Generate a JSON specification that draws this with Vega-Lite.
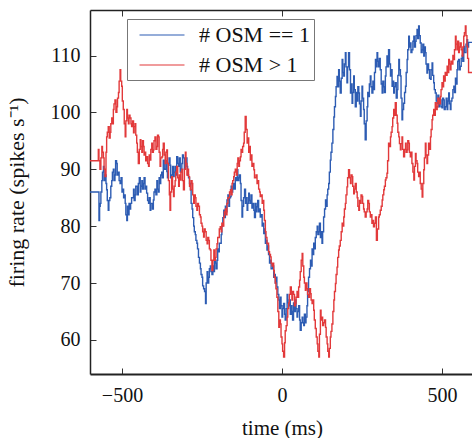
{
  "$schema": "https://vega.github.io/schema/vega-lite/v6.json",
  "width": 384,
  "height": 364,
  "autosize": {"type": "none"},
  "padding": {"left": 90, "top": 10, "right": 0, "bottom": 64},
  "background": "white",
  "config": {
    "view": {"stroke": null},
    "font": "Liberation Serif",
    "axis": {"labelFont": "Liberation Serif", "titleFont": "Liberation Serif", "labelColor": "#111", "titleColor": "#111", "grid": false, "tickColor": "#333", "domainColor": "#222", "titleFontWeight": "normal"}
  },
  "datasets": {
    "blue": [
{"t":-600,"r":86},{"t":-572,"r":81},{"t":-570,"r":83.5},{"t":-568,"r":84},{"t":-566,"r":86},{"t":-563,"r":88},{"t":-561,"r":89.5},{"t":-558,"r":90.5},{"t":-556,"r":88},{"t":-553,"r":89},{"t":-550,"r":87.5},{"t":-548,"r":86.4},{"t":-546,"r":84.5},{"t":-543,"r":82.8},{"t":-541,"r":84.5},{"t":-538,"r":85},{"t":-535,"r":87},{"t":-532,"r":88},{"t":-530,"r":89.5},{"t":-527,"r":90},{"t":-525,"r":88},{"t":-522,"r":89},{"t":-520,"r":91.5},{"t":-517,"r":91},{"t":-515,"r":89},{"t":-512,"r":89.5},{"t":-509,"r":88},{"t":-506,"r":87.5},{"t":-503,"r":88.5},{"t":-500,"r":86},{"t":-498,"r":86.5},{"t":-495,"r":85},{"t":-493,"r":85.5},{"t":-490,"r":84},{"t":-488,"r":82},{"t":-485,"r":81},{"t":-483,"r":83.5},{"t":-480,"r":82},{"t":-478,"r":84},{"t":-475,"r":83},{"t":-473,"r":84},{"t":-470,"r":85},{"t":-467,"r":85},{"t":-464,"r":86.5},{"t":-462,"r":84.5},{"t":-459,"r":85.5},{"t":-457,"r":87},{"t":-454,"r":87},{"t":-452,"r":85.5},{"t":-449,"r":87.5},{"t":-446,"r":88.5},{"t":-443,"r":86},{"t":-441,"r":87},{"t":-438,"r":88},{"t":-436,"r":86.5},{"t":-433,"r":87.5},{"t":-431,"r":88.5},{"t":-428,"r":86.5},{"t":-426,"r":87},{"t":-423,"r":85.8},{"t":-420,"r":84.5},{"t":-417,"r":84},{"t":-415,"r":85},{"t":-412,"r":82.8},{"t":-410,"r":84},{"t":-407,"r":84},{"t":-405,"r":83},{"t":-402,"r":84.6},{"t":-400,"r":86},{"t":-397,"r":86.5},{"t":-394,"r":85.5},{"t":-391,"r":88},{"t":-389,"r":86.5},{"t":-386,"r":86},{"t":-384,"r":88.5},{"t":-381,"r":87.5},{"t":-379,"r":89},{"t":-376,"r":89.5},{"t":-374,"r":88.5},{"t":-371,"r":91.6},{"t":-368,"r":90},{"t":-365,"r":90},{"t":-363,"r":91.5},{"t":-360,"r":89.6},{"t":-358,"r":88.5},{"t":-355,"r":91},{"t":-353,"r":92},{"t":-350,"r":90.7},{"t":-348,"r":88.5},{"t":-345,"r":89},{"t":-342,"r":90.5},{"t":-339,"r":88.7},{"t":-337,"r":89.5},{"t":-334,"r":90.5},{"t":-332,"r":89},{"t":-329,"r":92.2},{"t":-326,"r":91},{"t":-323,"r":90.5},{"t":-321,"r":92},{"t":-318,"r":89.5},{"t":-316,"r":90},{"t":-313,"r":91},{"t":-311,"r":92.5},{"t":-308,"r":92},{"t":-305,"r":90},{"t":-302,"r":91},{"t":-300,"r":92},{"t":-297,"r":90.5},{"t":-295,"r":89},{"t":-292,"r":88.5},{"t":-289,"r":87.5},{"t":-286,"r":86.4},{"t":-284,"r":84},{"t":-281,"r":83},{"t":-279,"r":81.5},{"t":-276,"r":80},{"t":-274,"r":79},{"t":-271,"r":78.5},{"t":-269,"r":77.5},{"t":-266,"r":77},{"t":-264,"r":76},{"t":-261,"r":74.5},{"t":-258,"r":73.5},{"t":-255,"r":72.5},{"t":-253,"r":71.5},{"t":-250,"r":71},{"t":-248,"r":69.5},{"t":-245,"r":69},{"t":-242,"r":68.5},{"t":-239,"r":66.4},{"t":-237,"r":70},{"t":-234,"r":72},{"t":-232,"r":70},{"t":-229,"r":71},{"t":-227,"r":72.5},{"t":-224,"r":73},{"t":-222,"r":72},{"t":-219,"r":71.5},{"t":-216,"r":73},{"t":-213,"r":72},{"t":-211,"r":74},{"t":-208,"r":73.5},{"t":-206,"r":72.5},{"t":-203,"r":74},{"t":-201,"r":76},{"t":-198,"r":75.5},{"t":-196,"r":77},{"t":-193,"r":77},{"t":-190,"r":78.5},{"t":-188,"r":80},{"t":-185,"r":81.5},{"t":-182,"r":82.8},{"t":-180,"r":81.5},{"t":-177,"r":83.5},{"t":-175,"r":82.5},{"t":-172,"r":84.6},{"t":-169,"r":85.5},{"t":-166,"r":83.5},{"t":-164,"r":85},{"t":-161,"r":85.2},{"t":-159,"r":87},{"t":-156,"r":86},{"t":-154,"r":86.5},{"t":-151,"r":87.5},{"t":-149,"r":86.5},{"t":-146,"r":88.5},{"t":-143,"r":88},{"t":-140,"r":89.9},{"t":-138,"r":88},{"t":-135,"r":88.5},{"t":-133,"r":89},{"t":-130,"r":87.5},{"t":-128,"r":84.5},{"t":-125,"r":81.6},{"t":-123,"r":83.5},{"t":-120,"r":85},{"t":-117,"r":86.5},{"t":-114,"r":84},{"t":-112,"r":85},{"t":-109,"r":82.8},{"t":-107,"r":84},{"t":-104,"r":85.8},{"t":-102,"r":84.5},{"t":-99,"r":84},{"t":-97,"r":85.5},{"t":-94,"r":83.2},{"t":-91,"r":84},{"t":-88,"r":82.8},{"t":-86,"r":81.5},{"t":-83,"r":84},{"t":-81,"r":82.5},{"t":-78,"r":83.4},{"t":-76,"r":84.5},{"t":-73,"r":82.5},{"t":-70,"r":83},{"t":-68,"r":81.6},{"t":-65,"r":82},{"t":-62,"r":80},{"t":-60,"r":80.5},{"t":-57,"r":78.7},{"t":-55,"r":79.5},{"t":-52,"r":77},{"t":-50,"r":77.5},{"t":-47,"r":75.8},{"t":-45,"r":76.5},{"t":-42,"r":75},{"t":-39,"r":73.5},{"t":-36,"r":74},{"t":-34,"r":72.5},{"t":-31,"r":72.5},{"t":-29,"r":73},{"t":-26,"r":71},{"t":-24,"r":71.5},{"t":-21,"r":70},{"t":-19,"r":71},{"t":-16,"r":69.3},{"t":-13,"r":68},{"t":-10,"r":67},{"t":-8,"r":65.5},{"t":-5,"r":67.5},{"t":-3,"r":66},{"t":0,"r":64},{"t":2,"r":65.5},{"t":5,"r":66.4},{"t":8,"r":64.5},{"t":10,"r":63.5},{"t":13,"r":65.5},{"t":16,"r":68},{"t":18,"r":66.5},{"t":21,"r":66},{"t":23,"r":67},{"t":26,"r":64.5},{"t":29,"r":66},{"t":31,"r":65},{"t":33,"r":63.5},{"t":36,"r":66.5},{"t":39,"r":65},{"t":42,"r":67},{"t":44,"r":65.5},{"t":47,"r":64},{"t":49,"r":65},{"t":52,"r":66},{"t":55,"r":63.5},{"t":57,"r":61.7},{"t":60,"r":63},{"t":63,"r":64},{"t":65,"r":63},{"t":68,"r":62.5},{"t":70,"r":64.5},{"t":73,"r":63},{"t":75,"r":64},{"t":78,"r":66},{"t":80,"r":68.5},{"t":83,"r":71},{"t":86,"r":72.5},{"t":89,"r":74},{"t":91,"r":73},{"t":94,"r":76},{"t":96,"r":75},{"t":99,"r":77},{"t":101,"r":76},{"t":104,"r":78},{"t":107,"r":79},{"t":110,"r":80},{"t":112,"r":78.5},{"t":115,"r":79},{"t":117,"r":80.5},{"t":120,"r":78},{"t":122,"r":79},{"t":125,"r":77},{"t":127,"r":79},{"t":130,"r":81.6},{"t":133,"r":83},{"t":136,"r":84.6},{"t":138,"r":83.5},{"t":141,"r":85.5},{"t":143,"r":86.5},{"t":146,"r":87.5},{"t":148,"r":89.5},{"t":151,"r":91.6},{"t":153,"r":93},{"t":156,"r":94.6},{"t":159,"r":97},{"t":162,"r":99.2},{"t":164,"r":101},{"t":167,"r":102.8},{"t":169,"r":104.5},{"t":172,"r":106.3},{"t":174,"r":104.5},{"t":177,"r":107.5},{"t":179,"r":105.5},{"t":182,"r":103.4},{"t":185,"r":106},{"t":188,"r":109.3},{"t":190,"r":107},{"t":193,"r":106.4},{"t":195,"r":108.5},{"t":198,"r":110.5},{"t":200,"r":108},{"t":203,"r":105.2},{"t":205,"r":108},{"t":208,"r":110.5},{"t":211,"r":107.5},{"t":214,"r":103.4},{"t":216,"r":105},{"t":219,"r":101.6},{"t":221,"r":103.5},{"t":224,"r":106.4},{"t":226,"r":104},{"t":229,"r":101},{"t":232,"r":103.5},{"t":235,"r":102},{"t":237,"r":104.5},{"t":240,"r":103.4},{"t":242,"r":101.5},{"t":245,"r":99.3},{"t":247,"r":102},{"t":250,"r":104.6},{"t":252,"r":102.5},{"t":255,"r":100.5},{"t":257,"r":98},{"t":260,"r":95.2},{"t":263,"r":98.5},{"t":266,"r":101},{"t":268,"r":103.5},{"t":271,"r":102.8},{"t":273,"r":105},{"t":276,"r":106.4},{"t":278,"r":104.5},{"t":281,"r":103.4},{"t":284,"r":105.5},{"t":287,"r":104},{"t":289,"r":107},{"t":292,"r":109.3},{"t":294,"r":108},{"t":297,"r":110.5},{"t":299,"r":109},{"t":302,"r":108},{"t":304,"r":109.5},{"t":307,"r":107.5},{"t":310,"r":105},{"t":313,"r":103.4},{"t":315,"r":105.5},{"t":318,"r":104.5},{"t":320,"r":103.5},{"t":323,"r":106.4},{"t":325,"r":108},{"t":328,"r":109.9},{"t":330,"r":108},{"t":333,"r":111},{"t":336,"r":108.5},{"t":339,"r":106.4},{"t":341,"r":107.5},{"t":344,"r":104.6},{"t":346,"r":105.5},{"t":349,"r":103.4},{"t":351,"r":104.5},{"t":354,"r":105.2},{"t":357,"r":102.5},{"t":360,"r":104},{"t":362,"r":106.5},{"t":365,"r":109.3},{"t":367,"r":107.5},{"t":370,"r":106.4},{"t":372,"r":102.5},{"t":375,"r":98.7},{"t":377,"r":100.5},{"t":380,"r":101.6},{"t":383,"r":103.5},{"t":386,"r":104.6},{"t":388,"r":107},{"t":391,"r":109.3},{"t":393,"r":111},{"t":396,"r":113.4},{"t":398,"r":111.5},{"t":401,"r":112.2},{"t":403,"r":110.5},{"t":406,"r":111},{"t":409,"r":112.5},{"t":412,"r":113.4},{"t":414,"r":111.5},{"t":417,"r":112.5},{"t":419,"r":113.5},{"t":422,"r":114.6},{"t":424,"r":113},{"t":427,"r":115.2},{"t":429,"r":113.5},{"t":432,"r":112.2},{"t":435,"r":110.5},{"t":438,"r":111},{"t":440,"r":112},{"t":443,"r":109.9},{"t":445,"r":111.5},{"t":448,"r":110.5},{"t":450,"r":108.5},{"t":453,"r":106.9},{"t":455,"r":108.5},{"t":458,"r":107.5},{"t":461,"r":106},{"t":464,"r":105.8},{"t":466,"r":107.5},{"t":469,"r":108.7},{"t":471,"r":106.5},{"t":474,"r":105.2},{"t":476,"r":104},{"t":479,"r":103.4},{"t":482,"r":102},{"t":485,"r":101.6},{"t":487,"r":103},{"t":490,"r":101},{"t":492,"r":102.5},{"t":495,"r":102.2},{"t":497,"r":101},{"t":500,"r":100.8},{"t":502,"r":102.5},{"t":505,"r":102.2},{"t":507,"r":100.5},{"t":510,"r":101},{"t":513,"r":102.5},{"t":516,"r":100.5},{"t":518,"r":102},{"t":521,"r":103.4},{"t":523,"r":101.5},{"t":526,"r":100.5},{"t":528,"r":102},{"t":531,"r":102.5},{"t":534,"r":104},{"t":537,"r":104.6},{"t":539,"r":103.5},{"t":542,"r":106},{"t":544,"r":105},{"t":547,"r":107.5},{"t":549,"r":109},{"t":552,"r":109.3},{"t":554,"r":107.5},{"t":557,"r":108.1},{"t":560,"r":109.5},{"t":563,"r":110},{"t":565,"r":109},{"t":568,"r":111.6},{"t":570,"r":110.5},{"t":573,"r":110.5},{"t":575,"r":112},{"t":578,"r":112.8},{"t":580,"r":111.5},{"t":583,"r":112.3},{"t":600,"r":112.3}
    ],
    "red": [
{"t":-600,"r":91.5},{"t":-574,"r":93.5},{"t":-572,"r":91.5},{"t":-569,"r":90},{"t":-566,"r":92},{"t":-563,"r":94},{"t":-561,"r":93},{"t":-558,"r":92},{"t":-556,"r":90},{"t":-553,"r":88.7},{"t":-550,"r":93},{"t":-548,"r":95.7},{"t":-546,"r":96.5},{"t":-543,"r":97.5},{"t":-540,"r":95.5},{"t":-537,"r":96.5},{"t":-535,"r":98},{"t":-532,"r":99},{"t":-530,"r":98},{"t":-527,"r":100.5},{"t":-525,"r":101.5},{"t":-522,"r":102.2},{"t":-519,"r":100},{"t":-516,"r":101},{"t":-514,"r":102.5},{"t":-511,"r":103.5},{"t":-509,"r":105.5},{"t":-506,"r":107.5},{"t":-504,"r":105.5},{"t":-501,"r":104.6},{"t":-499,"r":102},{"t":-496,"r":100.5},{"t":-493,"r":98},{"t":-490,"r":95.7},{"t":-488,"r":98.5},{"t":-485,"r":100.5},{"t":-483,"r":99},{"t":-480,"r":98},{"t":-478,"r":99.5},{"t":-475,"r":99},{"t":-472,"r":98},{"t":-470,"r":97.5},{"t":-467,"r":98.5},{"t":-464,"r":96.4},{"t":-462,"r":97.5},{"t":-459,"r":98},{"t":-457,"r":96},{"t":-454,"r":94.6},{"t":-452,"r":93},{"t":-449,"r":91},{"t":-446,"r":93.5},{"t":-443,"r":95.2},{"t":-441,"r":94},{"t":-438,"r":93},{"t":-436,"r":95},{"t":-433,"r":94},{"t":-431,"r":92.5},{"t":-428,"r":93},{"t":-426,"r":91.5},{"t":-423,"r":92.2},{"t":-420,"r":91},{"t":-417,"r":90.5},{"t":-415,"r":92.5},{"t":-412,"r":91.6},{"t":-410,"r":93.5},{"t":-407,"r":94.6},{"t":-405,"r":93},{"t":-402,"r":93.4},{"t":-400,"r":95},{"t":-397,"r":95.7},{"t":-394,"r":93.5},{"t":-391,"r":94},{"t":-389,"r":96},{"t":-386,"r":95.7},{"t":-384,"r":93},{"t":-381,"r":90.5},{"t":-379,"r":92},{"t":-375,"r":92.2},{"t":-373,"r":93.5},{"t":-371,"r":94.6},{"t":-368,"r":92.5},{"t":-365,"r":91},{"t":-363,"r":93},{"t":-360,"r":93.4},{"t":-358,"r":91},{"t":-355,"r":88},{"t":-352,"r":85.5},{"t":-350,"r":82.8},{"t":-348,"r":86},{"t":-345,"r":88.7},{"t":-342,"r":86.5},{"t":-339,"r":85.2},{"t":-337,"r":87},{"t":-334,"r":88},{"t":-332,"r":89.5},{"t":-329,"r":90.5},{"t":-326,"r":88.5},{"t":-323,"r":87},{"t":-321,"r":89},{"t":-318,"r":88.1},{"t":-316,"r":89.5},{"t":-313,"r":90},{"t":-311,"r":88},{"t":-308,"r":86.4},{"t":-305,"r":90},{"t":-302,"r":93},{"t":-300,"r":91},{"t":-297,"r":89},{"t":-295,"r":90},{"t":-292,"r":88.7},{"t":-289,"r":87},{"t":-286,"r":86.4},{"t":-284,"r":88},{"t":-281,"r":87.5},{"t":-279,"r":85.5},{"t":-276,"r":84},{"t":-274,"r":85.5},{"t":-271,"r":85},{"t":-269,"r":83.5},{"t":-266,"r":82.8},{"t":-264,"r":84},{"t":-261,"r":83.5},{"t":-258,"r":82},{"t":-255,"r":81.6},{"t":-253,"r":80.5},{"t":-250,"r":80},{"t":-248,"r":79},{"t":-245,"r":78.1},{"t":-243,"r":79.5},{"t":-240,"r":79},{"t":-237,"r":77.5},{"t":-234,"r":76.9},{"t":-232,"r":78},{"t":-229,"r":77.5},{"t":-227,"r":76},{"t":-224,"r":75.8},{"t":-222,"r":74},{"t":-219,"r":72.2},{"t":-216,"r":74},{"t":-213,"r":75.8},{"t":-211,"r":74},{"t":-208,"r":74.5},{"t":-206,"r":76},{"t":-203,"r":76.9},{"t":-201,"r":78},{"t":-198,"r":78},{"t":-196,"r":79.5},{"t":-193,"r":79.9},{"t":-190,"r":79},{"t":-188,"r":80.5},{"t":-185,"r":80},{"t":-182,"r":81.6},{"t":-180,"r":82.5},{"t":-177,"r":83},{"t":-175,"r":82},{"t":-172,"r":84},{"t":-169,"r":85},{"t":-166,"r":85},{"t":-164,"r":86},{"t":-161,"r":86.4},{"t":-159,"r":85.5},{"t":-156,"r":87.5},{"t":-154,"r":88},{"t":-151,"r":88.7},{"t":-149,"r":89.5},{"t":-146,"r":90},{"t":-143,"r":89},{"t":-140,"r":91},{"t":-138,"r":92},{"t":-135,"r":90.5},{"t":-133,"r":91.5},{"t":-130,"r":92.2},{"t":-128,"r":93.5},{"t":-125,"r":93},{"t":-123,"r":94},{"t":-120,"r":94.6},{"t":-118,"r":96.5},{"t":-115,"r":99.3},{"t":-112,"r":97},{"t":-109,"r":94.6},{"t":-107,"r":95.5},{"t":-104,"r":93},{"t":-102,"r":94},{"t":-99,"r":91.6},{"t":-97,"r":92.5},{"t":-94,"r":90.5},{"t":-91,"r":91},{"t":-88,"r":89.9},{"t":-86,"r":88.5},{"t":-83,"r":88.5},{"t":-81,"r":89},{"t":-78,"r":87.5},{"t":-76,"r":88},{"t":-73,"r":86.5},{"t":-70,"r":86},{"t":-68,"r":85.2},{"t":-65,"r":85.5},{"t":-62,"r":84},{"t":-60,"r":84.5},{"t":-57,"r":82.8},{"t":-55,"r":81},{"t":-52,"r":79},{"t":-50,"r":78},{"t":-47,"r":76.9},{"t":-45,"r":77},{"t":-42,"r":75.5},{"t":-39,"r":75},{"t":-36,"r":74.6},{"t":-34,"r":73.5},{"t":-31,"r":73},{"t":-29,"r":73.5},{"t":-26,"r":72.2},{"t":-24,"r":71},{"t":-21,"r":70},{"t":-19,"r":69},{"t":-16,"r":67.5},{"t":-13,"r":65},{"t":-10,"r":62.2},{"t":-8,"r":63.5},{"t":-5,"r":62.8},{"t":-3,"r":60.5},{"t":0,"r":59.3},{"t":2,"r":58},{"t":5,"r":57},{"t":8,"r":59.5},{"t":10,"r":61.6},{"t":13,"r":62.5},{"t":16,"r":64},{"t":18,"r":65.5},{"t":21,"r":66.5},{"t":23,"r":68},{"t":26,"r":69.3},{"t":29,"r":68},{"t":31,"r":67},{"t":33,"r":68.5},{"t":36,"r":68},{"t":39,"r":66},{"t":42,"r":66.4},{"t":44,"r":67.5},{"t":47,"r":68.5},{"t":49,"r":67.5},{"t":52,"r":69.3},{"t":55,"r":70.5},{"t":57,"r":72},{"t":60,"r":74},{"t":63,"r":75.2},{"t":65,"r":73},{"t":68,"r":71},{"t":70,"r":70},{"t":73,"r":68.7},{"t":75,"r":70},{"t":78,"r":69},{"t":80,"r":68},{"t":83,"r":67.5},{"t":86,"r":69},{"t":89,"r":68.1},{"t":91,"r":67},{"t":94,"r":66.4},{"t":96,"r":67},{"t":99,"r":65.2},{"t":101,"r":63.5},{"t":104,"r":62},{"t":107,"r":60.5},{"t":110,"r":59.3},{"t":112,"r":58},{"t":115,"r":57},{"t":117,"r":61},{"t":120,"r":65.2},{"t":122,"r":63.5},{"t":125,"r":64},{"t":127,"r":62.5},{"t":130,"r":63},{"t":133,"r":63.5},{"t":136,"r":62.2},{"t":138,"r":60.5},{"t":141,"r":59.3},{"t":143,"r":58},{"t":146,"r":57},{"t":148,"r":58.5},{"t":151,"r":60.5},{"t":153,"r":61.5},{"t":156,"r":62.8},{"t":159,"r":65},{"t":162,"r":67},{"t":164,"r":68.5},{"t":167,"r":69.9},{"t":169,"r":71.5},{"t":172,"r":72.8},{"t":174,"r":74.5},{"t":177,"r":75.8},{"t":179,"r":76.5},{"t":182,"r":77.5},{"t":185,"r":79},{"t":188,"r":80.5},{"t":190,"r":80},{"t":193,"r":81.6},{"t":195,"r":83},{"t":198,"r":84},{"t":200,"r":85.5},{"t":203,"r":86.9},{"t":205,"r":88.5},{"t":208,"r":89.9},{"t":211,"r":88.5},{"t":214,"r":87.5},{"t":216,"r":89},{"t":219,"r":88.7},{"t":221,"r":87},{"t":224,"r":85.7},{"t":226,"r":86.5},{"t":229,"r":87.5},{"t":232,"r":86},{"t":235,"r":85},{"t":237,"r":83.5},{"t":240,"r":82.8},{"t":242,"r":84.5},{"t":245,"r":84},{"t":247,"r":85.5},{"t":250,"r":85.2},{"t":252,"r":84},{"t":255,"r":83},{"t":257,"r":82.5},{"t":260,"r":81.6},{"t":263,"r":82.5},{"t":266,"r":83},{"t":268,"r":84.5},{"t":271,"r":84},{"t":273,"r":82.5},{"t":276,"r":81.6},{"t":278,"r":82},{"t":281,"r":80.5},{"t":284,"r":81},{"t":286,"r":79.9},{"t":289,"r":80.5},{"t":292,"r":81.6},{"t":295,"r":77.5},{"t":298,"r":79.5},{"t":302,"r":81.6},{"t":304,"r":82},{"t":307,"r":82.8},{"t":310,"r":83.5},{"t":313,"r":84.6},{"t":315,"r":85.5},{"t":318,"r":86.4},{"t":320,"r":87},{"t":323,"r":88.1},{"t":325,"r":88.5},{"t":328,"r":89.3},{"t":330,"r":91.5},{"t":333,"r":94.6},{"t":336,"r":94},{"t":339,"r":95.7},{"t":341,"r":96.5},{"t":344,"r":97.5},{"t":346,"r":99},{"t":349,"r":100.5},{"t":351,"r":99.5},{"t":354,"r":101.7},{"t":357,"r":99.5},{"t":360,"r":98.1},{"t":362,"r":96.5},{"t":365,"r":95.7},{"t":367,"r":94.5},{"t":370,"r":93.4},{"t":372,"r":94.5},{"t":375,"r":95.7},{"t":377,"r":93.5},{"t":380,"r":92.2},{"t":383,"r":93.5},{"t":386,"r":94.6},{"t":388,"r":93},{"t":391,"r":93.4},{"t":393,"r":95},{"t":396,"r":94.6},{"t":398,"r":93},{"t":401,"r":92.2},{"t":403,"r":93},{"t":406,"r":91},{"t":409,"r":89.5},{"t":412,"r":88.1},{"t":414,"r":90.5},{"t":417,"r":92.8},{"t":419,"r":91.5},{"t":422,"r":91},{"t":424,"r":89.5},{"t":427,"r":88.7},{"t":429,"r":89.5},{"t":432,"r":87.5},{"t":435,"r":86.5},{"t":438,"r":85.1},{"t":440,"r":87.5},{"t":443,"r":89.9},{"t":445,"r":92},{"t":448,"r":94.6},{"t":450,"r":92.5},{"t":453,"r":91},{"t":455,"r":92.5},{"t":458,"r":94.6},{"t":461,"r":93.5},{"t":464,"r":95.7},{"t":466,"r":97},{"t":469,"r":98.7},{"t":471,"r":99.5},{"t":474,"r":100.5},{"t":476,"r":99.5},{"t":479,"r":101.7},{"t":482,"r":100.5},{"t":485,"r":101},{"t":487,"r":102.5},{"t":490,"r":102},{"t":492,"r":101.5},{"t":495,"r":102.8},{"t":497,"r":104},{"t":500,"r":105.2},{"t":502,"r":104.5},{"t":505,"r":106.4},{"t":507,"r":105.5},{"t":510,"r":107},{"t":513,"r":106.5},{"t":516,"r":108.1},{"t":518,"r":107},{"t":521,"r":109.3},{"t":523,"r":108.5},{"t":526,"r":107.5},{"t":528,"r":109},{"t":531,"r":108.5},{"t":534,"r":110},{"t":537,"r":109.3},{"t":539,"r":111},{"t":542,"r":113.4},{"t":544,"r":112},{"t":547,"r":111},{"t":549,"r":112.5},{"t":552,"r":110.5},{"t":554,"r":111.5},{"t":557,"r":112.2},{"t":560,"r":111},{"t":563,"r":109.9},{"t":565,"r":111.5},{"t":568,"r":113.4},{"t":570,"r":114},{"t":573,"r":115.2},{"t":575,"r":113.5},{"t":578,"r":111.6},{"t":580,"r":109.5},{"t":583,"r":107},{"t":600,"r":107}
    ]
  },
  "layer": [
    {
      "data": {"name": "blue"},
      "mark": {"type": "line", "interpolate": "step-after", "strokeWidth": 1.4, "clip": true},
      "encoding": {
        "x": {"field": "t", "type": "quantitative", "scale": {"domain": [-600, 600], "nice": false, "zero": false},
          "axis": {"values": [-500, 0, 500], "title": "time (ms)", "labelFontSize": 20, "titleFontSize": 21, "tickSize": -6, "labelPadding": 17, "domainWidth": 2, "titlePadding": 12}},
        "y": {"field": "r", "type": "quantitative", "scale": {"domain": [54, 118], "nice": false, "zero": false},
          "axis": {"values": [60, 70, 80, 90, 100, 110], "title": "firing rate (spikes s⁻¹)", "labelFontSize": 20, "titleFontSize": 22, "tickSize": -6, "labelPadding": 16, "domainWidth": 1.5, "titlePadding": 22}},
        "color": {"datum": "# OSM == 1", "type": "nominal",
          "scale": {"domain": ["# OSM == 1", "# OSM > 1"], "range": ["#2d5cb3", "#e2393a"]},
          "legend": {"orient": "none", "legendX": 37, "legendY": 9, "title": null, "symbolType": "M-2,0H2", "symbolSize": 506, "symbolStrokeWidth": 1.1, "symbolOffset": 19, "labelFont": "Liberation Serif", "labelFontSize": 22, "labelColor": "#111", "labelOffset": 25, "strokeColor": "#777", "fillColor": "white", "padding": 4, "rowPadding": 7, "offset": 0}}
      }
    },
    {
      "data": {"name": "red"},
      "mark": {"type": "line", "interpolate": "step-after", "strokeWidth": 1.4, "clip": true},
      "encoding": {
        "x": {"field": "t", "type": "quantitative",
          "axis": {"orient": "top", "values": [-500, 0, 500], "labels": false, "title": null, "tickSize": -6, "domainWidth": 1.5}},
        "y": {"field": "r", "type": "quantitative"},
        "color": {"datum": "# OSM > 1", "type": "nominal"}
      }
    }
  ],
  "resolve": {"axis": {"x": "independent"}}
}
